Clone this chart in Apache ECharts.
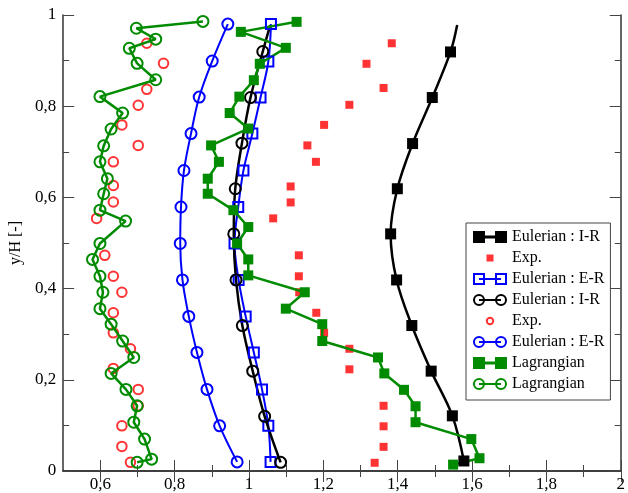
<!DOCTYPE html>
<html><head><meta charset="utf-8">
<script src="https://cdn.jsdelivr.net/npm/echarts@6/dist/echarts.min.js"></script>
<style>html,body{margin:0;padding:0;background:#fff}#c{width:628px;height:493px}</style>
</head><body><div id="c"></div>
<script>
// ---- tick values and labels ----
const xTickValues = [0.6, 0.8, 1.0, 1.2, 1.4, 1.6, 1.8, 2.0];
const xTickLabels = ['0,6', '0,8', '1', '1,2', '1,4', '1,6', '1,8', '2'];
const xMinorTicks = [0.7, 0.9, 1.1, 1.3, 1.5, 1.7, 1.9];
const yTickValues = [0, 0.2, 0.4, 0.6, 0.8, 1.0];
const yTickLabels = ['0', '0,2', '0,4', '0,6', '0,8', '1'];
const yMinorTicks = [0.1, 0.3, 0.5, 0.7, 0.9];

// ---- series data ----
// Eulerian : I-R (filled squares); first point is the unmarked top end of the curve
const eulIRsqX = [1.560, 1.542, 1.493, 1.440, 1.399, 1.381, 1.397, 1.438, 1.490, 1.547, 1.578];
const eulIRsqY = [0.978, 0.919, 0.819, 0.718, 0.619, 0.520, 0.419, 0.319, 0.219, 0.121, 0.022];
// Exp. (filled red squares)
const expSqX = [1.384, 1.316, 1.362, 1.270, 1.202, 1.157, 1.180, 1.112, 1.112, 1.065, 1.134, 1.134, 1.135, 1.181, 1.202, 1.270, 1.270, 1.362, 1.362, 1.362, 1.338];
const expSqY = [0.938, 0.893, 0.840, 0.803, 0.759, 0.714, 0.678, 0.624, 0.589, 0.554, 0.473, 0.427, 0.392, 0.347, 0.303, 0.268, 0.223, 0.143, 0.098, 0.053, 0.018];
// Eulerian : E-R (open blue squares)
const eulERsqX = [1.059, 1.052, 1.031, 1.009, 0.985, 0.971, 0.961, 0.972, 0.991, 1.013, 1.035, 1.052, 1.058];
const eulERsqY = [0.980, 0.898, 0.819, 0.740, 0.659, 0.579, 0.499, 0.419, 0.339, 0.260, 0.179, 0.099, 0.020];
// Eulerian : I-R (open black circles); first point is the unmarked top end
const eulIRcX = [1.057, 1.037, 1.004, 0.981, 0.963, 0.959, 0.965, 0.982, 1.010, 1.042, 1.085];
const eulIRcY = [0.978, 0.920, 0.819, 0.719, 0.619, 0.520, 0.419, 0.319, 0.219, 0.120, 0.019];
// Exp. (open red circles)
const expCX = [0.725, 0.770, 0.725, 0.702, 0.658, 0.702, 0.635, 0.635, 0.635, 0.590, 0.612, 0.635, 0.658, 0.635, 0.635, 0.681, 0.635, 0.702, 0.702, 0.658, 0.658, 0.681];
const expCY = [0.938, 0.894, 0.837, 0.802, 0.759, 0.714, 0.678, 0.626, 0.590, 0.554, 0.473, 0.427, 0.392, 0.347, 0.303, 0.268, 0.225, 0.179, 0.143, 0.099, 0.054, 0.019];
// Eulerian : E-R (open blue circles)
const eulERcX = [0.943, 0.901, 0.866, 0.844, 0.825, 0.817, 0.815, 0.821, 0.838, 0.860, 0.887, 0.921, 0.968];
const eulERcY = [0.980, 0.899, 0.820, 0.740, 0.659, 0.579, 0.499, 0.419, 0.339, 0.260, 0.179, 0.099, 0.020];
// Lagrangian (filled green squares)
const lagSqX = [1.128, 0.978, 1.099, 1.029, 1.013, 0.974, 0.948, 0.998, 0.898, 0.919, 0.889, 0.889, 0.958, 0.998, 0.968, 0.998, 0.998, 1.150, 1.099, 1.197, 1.197, 1.347, 1.364, 1.417, 1.448, 1.448, 1.598, 1.620, 1.549];
const lagSqY = [0.985, 0.963, 0.928, 0.893, 0.857, 0.821, 0.785, 0.751, 0.714, 0.678, 0.641, 0.608, 0.572, 0.535, 0.499, 0.464, 0.429, 0.392, 0.356, 0.322, 0.285, 0.249, 0.214, 0.178, 0.142, 0.107, 0.070, 0.028, 0.014];
// Lagrangian (open green circles)
const lagCX = [0.876, 0.697, 0.749, 0.678, 0.699, 0.749, 0.599, 0.660, 0.629, 0.609, 0.599, 0.619, 0.609, 0.599, 0.668, 0.599, 0.579, 0.599, 0.607, 0.599, 0.629, 0.660, 0.690, 0.629, 0.669, 0.699, 0.690, 0.719, 0.738, 0.699];
const lagCY = [0.986, 0.971, 0.947, 0.927, 0.894, 0.858, 0.821, 0.785, 0.750, 0.713, 0.678, 0.641, 0.608, 0.572, 0.548, 0.499, 0.464, 0.427, 0.392, 0.356, 0.322, 0.285, 0.249, 0.214, 0.179, 0.143, 0.107, 0.070, 0.026, 0.019];

// ---- helpers ----
function pts(xs, ys) { return xs.map((x, i) => [x, ys[i]]); }
function ptsOpenTop(xs, ys) { const d = pts(xs, ys); d[0] = { value: d[0], symbol: 'none' }; return d; }
function lbl(values, labels) {
  return v => { const i = values.findIndex(t => Math.abs(t - v) < 1e-6); return i >= 0 ? labels[i] : ''; };
}

const FONT = 'Liberation Serif';
const BLACK = '#000000', RED = '#ff0000', BLUE = '#0000ff', GREEN = '#008b00';
const CLEAR = 'rgba(0,0,0,0)';

// legend icons (34 x 12 boxes)
const ICON_SQ_LINE = 'path://M0 0H12V12H0Z M12 4.5H22V7.5H12Z M22 0H34V12H22Z';
const ICON_SQ_SMALL = 'path://M0 0L0.01 0L0 0.01Z M34 12L33.99 12L34 11.99Z M13.5 2.5H20.5V9.5H13.5Z';
const ICON_OSQ_LINE = 'path://M0 0H12V12H0Z M2 2V10H10V2Z M6 5H28V7H6Z M22 0H34V12H22Z M24 2V10H32V2Z';
const ICON_OC_LINE = 'path://M0 6A6 6 0 1 1 12 6A6 6 0 1 1 0 6Z M2 6A4 4 0 1 0 10 6A4 4 0 1 0 2 6Z M6 5H28V7H6Z M22 6A6 6 0 1 1 34 6A6 6 0 1 1 22 6Z M24 6A4 4 0 1 0 32 6A4 4 0 1 0 24 6Z';
const ICON_OC_SMALL = 'path://M0 0L0.01 0L0 0.01Z M34 12L33.99 12L34 11.99Z M12.8 6A4.2 4.2 0 1 1 21.2 6A4.2 4.2 0 1 1 12.8 6Z M14.8 6A2.2 2.2 0 1 0 19.2 6A2.2 2.2 0 1 0 14.8 6Z';

function xAx(position, major, showLabel, showLine) {
  return {
    type: 'value', min: 0.5, max: 2, position: position,
    axisLine: { show: showLine, lineStyle: { color: '#333', width: 1.5 } },
    splitLine: { show: false },
    axisTick: { show: true, inside: true, length: major ? 11 : 6, customValues: major ? xTickValues : xMinorTicks, lineStyle: { color: '#444', width: 1 } },
    axisLabel: showLabel ? { show: true, customValues: xTickValues, formatter: lbl(xTickValues, xTickLabels), margin: 5, fontFamily: FONT, fontSize: 17, color: '#000' } : { show: false }
  };
}
function yAx(position, major, showLabel, showLine, withName) {
  const a = {
    type: 'value', min: 0, max: 1, position: position,
    axisLine: { show: showLine, lineStyle: { color: '#333', width: 1.5 } },
    splitLine: { show: false },
    axisTick: { show: true, inside: true, length: major ? 11 : 6, customValues: major ? yTickValues : yMinorTicks, lineStyle: { color: '#444', width: 1 } },
    axisLabel: showLabel ? { show: true, customValues: yTickValues, formatter: lbl(yTickValues, yTickLabels), margin: 7, fontFamily: FONT, fontSize: 17, color: '#000' } : { show: false }
  };
  if (withName) {
    a.name = 'y/H [-]';
    a.nameLocation = 'middle';
    a.nameGap = 30;
    a.nameTextStyle = { fontFamily: FONT, fontSize: 16, color: '#000' };
  }
  return a;
}

const option = {
  animation: false,
  backgroundColor: '#ffffff',
  grid: { left: 54, right: 2, top: 15, bottom: 21, containLabel: false },
  xAxis: [xAx('bottom', true, true, true), xAx('bottom', false, false, false), xAx('top', true, false, true), xAx('top', false, false, false)],
  yAxis: [yAx('left', true, true, true, true), yAx('left', false, false, false, false), yAx('right', true, false, true, false), yAx('right', false, false, false, false)],
  legend: {
    left: 466, top: 223, orient: 'vertical',
    padding: [6, 6, 8, 7],
    itemWidth: 34, itemHeight: 12, itemGap: 5,
    borderColor: '#444', borderWidth: 1, backgroundColor: '#fff',
    selectedMode: false,
    formatter: name => name.split('#')[0],
    textStyle: { fontFamily: FONT, fontSize: 16, color: '#000' },
    data: [
      { name: 'Eulerian : I-R', icon: ICON_SQ_LINE, itemStyle: { color: BLACK, borderWidth: 0 } },
      { name: 'Exp.', icon: ICON_SQ_SMALL, itemStyle: { color: RED, borderWidth: 0 } },
      { name: 'Eulerian : E-R', icon: ICON_OSQ_LINE, itemStyle: { color: BLUE, borderWidth: 0 } },
      { name: 'Eulerian : I-R#2', icon: ICON_OC_LINE, itemStyle: { color: BLACK, borderWidth: 0 } },
      { name: 'Exp.#2', icon: ICON_OC_SMALL, itemStyle: { color: RED, borderWidth: 0 } },
      { name: 'Eulerian : E-R#2', icon: ICON_OC_LINE, itemStyle: { color: BLUE, borderWidth: 0 } },
      { name: 'Lagrangian', icon: ICON_SQ_LINE, itemStyle: { color: GREEN, borderWidth: 0 } },
      { name: 'Lagrangian#2', icon: ICON_OC_LINE, itemStyle: { color: GREEN, borderWidth: 0 } }
    ]
  },
  series: [
    { name: 'Eulerian : I-R', type: 'line', data: ptsOpenTop(eulIRsqX, eulIRsqY), smooth: 0.35,
      symbol: 'rect', symbolSize: 11, itemStyle: { color: BLACK }, lineStyle: { color: BLACK, width: 2.5 } },
    { name: 'Exp.', type: 'scatter', data: pts(expSqX, expSqY),
      symbol: 'rect', symbolSize: 8, itemStyle: { color: RED } },
    { name: 'Eulerian : E-R', type: 'line', data: pts(eulERsqX, eulERsqY), smooth: 0.35,
      symbol: 'rect', symbolSize: 10, itemStyle: { color: CLEAR, borderColor: BLUE, borderWidth: 2 }, lineStyle: { color: BLUE, width: 2 } },
    { name: 'Eulerian : I-R#2', type: 'line', data: ptsOpenTop(eulIRcX, eulIRcY), smooth: 0.35,
      symbol: 'circle', symbolSize: 11, itemStyle: { color: CLEAR, borderColor: BLACK, borderWidth: 2 }, lineStyle: { color: BLACK, width: 2.5 } },
    { name: 'Exp.#2', type: 'scatter', data: pts(expCX, expCY),
      symbol: 'circle', symbolSize: 9.5, itemStyle: { color: CLEAR, borderColor: RED, borderWidth: 2 } },
    { name: 'Eulerian : E-R#2', type: 'line', data: pts(eulERcX, eulERcY), smooth: 0.35,
      symbol: 'circle', symbolSize: 11, itemStyle: { color: CLEAR, borderColor: BLUE, borderWidth: 2 }, lineStyle: { color: BLUE, width: 2 } },
    { name: 'Lagrangian', type: 'line', data: pts(lagSqX, lagSqY),
      symbol: 'rect', symbolSize: 10, itemStyle: { color: GREEN }, lineStyle: { color: GREEN, width: 2.5 } },
    { name: 'Lagrangian#2', type: 'line', data: pts(lagCX, lagCY),
      symbol: 'circle', symbolSize: 11, itemStyle: { color: CLEAR, borderColor: GREEN, borderWidth: 2 }, lineStyle: { color: GREEN, width: 2.5 } }
  ]
};

const chart = echarts.init(document.getElementById('c'), null, { renderer: 'canvas' });
chart.setOption(option);
</script>
</body></html>
